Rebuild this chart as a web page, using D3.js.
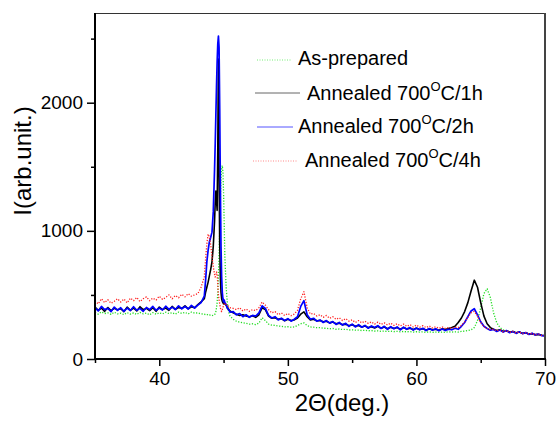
<!DOCTYPE html>
<html>
<head>
<meta charset="utf-8">
<script src="https://cdn.jsdelivr.net/npm/d3@7"></script>
<style>
  body { margin: 0; background: #fff; }
  svg { display: block; font-family: "Liberation Sans", Arial, sans-serif; }
</style>
</head>
<body>
<svg id="chart" width="556" height="421"></svg>
<script>
// 2theta sampling grid (denser around the main peak)
var twoTheta = [
  35, 35.25, 35.5, 35.75, 36, 36.25, 36.5, 36.75, 37, 37.25, 37.5, 37.75,
  38, 38.25, 38.5, 38.75, 39, 39.25, 39.5, 39.75, 40, 40.25, 40.5, 40.75,
  41, 41.25, 41.5, 41.75, 42, 42.25, 42.5, 42.75, 43, 43.25,
  43.5, 43.6, 43.7, 43.8, 43.9, 44.0, 44.1, 44.2, 44.3,
  44.35, 44.4, 44.45, 44.5, 44.55, 44.6, 44.65, 44.7, 44.75, 44.8, 44.85, 44.9, 44.95, 45.0, 45.05,
  45.1, 45.2, 45.3, 45.4, 45.5,
  45.75,
  46, 46.25, 46.5, 46.75, 47, 47.25, 47.5, 47.75, 48, 48.25, 48.5, 48.75,
  49, 49.25, 49.5, 49.75, 50, 50.25, 50.5, 50.75, 51, 51.25, 51.5, 51.75,
  52, 52.25, 52.5, 52.75, 53, 53.25, 53.5, 53.75, 54, 54.25, 54.5, 54.75,
  55, 55.25, 55.5, 55.75, 56, 56.25, 56.5, 56.75, 57, 57.25, 57.5, 57.75,
  58, 58.25, 58.5, 58.75, 59, 59.25, 59.5, 59.75, 60, 60.25, 60.5, 60.75,
  61, 61.25, 61.5, 61.75, 62, 62.25, 62.5, 62.75, 63, 63.25, 63.5, 63.75,
  64, 64.25, 64.5, 64.75, 65, 65.25, 65.5, 65.75, 66, 66.25, 66.5, 66.75,
  67, 67.25, 67.5, 67.75, 68, 68.25, 68.5, 68.75, 69, 69.25, 69.5, 69.75,
  70
];

var asPrepared = [
  362, 350, 368, 355, 360, 348, 365, 352, 358, 346, 362, 350,
  360, 348, 364, 352, 358, 345, 362, 350, 360, 352, 365, 355,
  362, 350, 366, 356, 364, 352, 366, 358, 360, 352,
  350, 345, 348, 342, 345, 340, 338, 342, 345,
  355, 370, 400, 440, 520, 650, 820, 1020, 1230, 1400, 1490, 1510, 1460, 1300, 1050,
  800, 560, 430, 365, 335,
  310,
  295, 288, 282, 278, 272, 275, 268, 280, 322, 300, 272, 265,
  262, 258, 255, 250, 252, 248, 250, 262, 275, 282, 262, 250,
  248, 244, 245, 240, 240, 236, 238, 232, 234, 230, 232, 226,
  228, 225, 226, 222, 224, 220, 222, 218, 220, 216, 218, 214,
  218, 214, 216, 212, 215, 212, 214, 210, 213, 210, 212, 208,
  212, 208, 210, 208, 210, 208, 212, 210, 212, 210, 215, 218,
  222, 228, 245, 300, 400, 510, 548, 480, 360, 282, 245, 228,
  220, 212, 215, 205, 208, 200, 204, 196, 198, 190, 192, 186,
  184
];

var annealed1h = [
  405, 380, 398, 372, 402, 378, 395, 385, 392, 370, 405, 380,
  398, 375, 408, 385, 395, 378, 400, 372, 405, 385, 398, 380,
  410, 388, 402, 395, 415, 392, 408, 400, 425, 445,
  470, 520, 560, 600, 650, 700, 760, 880, 1080,
  1220, 1310, 1240, 1160, 1650, 2340, 1450, 900, 640, 520, 470, 450, 440, 430, 445,
  430, 420, 400, 385, 375,
  360,
  350, 340, 345, 335, 330, 338, 325, 345, 400, 385, 335, 318,
  322, 310, 315, 298, 310, 300, 305, 320, 350, 368, 330, 305,
  310, 298, 300, 290, 295, 282, 288, 275, 280, 268, 272, 260,
  268, 255, 262, 250, 258, 245, 252, 242, 255, 240, 250, 236,
  248, 238, 245, 232, 245, 235, 240, 230, 240, 230, 236, 226,
  235, 228, 232, 225, 235, 230, 238, 245, 255, 285, 320, 370,
  440, 530, 615, 560, 440, 335, 275, 245, 232, 222, 228, 215,
  220, 210, 215, 205, 210, 200, 205, 195, 198, 190, 192, 185,
  182
];

var annealed2h = [
  400, 375, 410, 385, 395, 370, 405, 380, 400, 372, 398, 378,
  408, 380, 395, 372, 402, 385, 410, 380, 398, 382, 412, 388,
  405, 385, 415, 392, 410, 390, 418, 398, 420, 440,
  490, 610, 760, 850, 915, 950, 990, 1150, 1480,
  1680, 1900, 2120, 2320, 2460, 2520, 2430, 1950, 1350, 880, 640, 520, 470, 445, 460,
  440, 425, 395, 385, 365,
  370,
  345, 355, 330, 345, 325, 340, 335, 360, 415, 395, 340, 320,
  330, 305, 318, 300, 315, 295, 310, 330, 410, 455, 345, 310,
  318, 295, 305, 285, 300, 280, 292, 270, 285, 265, 278, 255,
  272, 250, 268, 248, 262, 240, 258, 245, 260, 238, 255, 232,
  252, 236, 250, 228, 248, 232, 245, 225, 242, 228, 240, 222,
  238, 225, 236, 220, 235, 222, 232, 228, 240, 232, 255, 285,
  330, 375, 392, 345, 290, 255, 238, 225, 230, 215, 226, 210,
  222, 205, 215, 200, 212, 198, 206, 192, 200, 188, 195, 182,
  180
];

var annealed4h = [
  455, 430, 470, 440, 462, 435, 450, 470, 445, 468, 438, 475,
  455, 480, 448, 470, 485, 455, 475, 460, 490, 465, 480, 500,
  470, 495, 478, 505, 485, 510, 490, 500, 510, 560,
  640, 780, 900, 975, 950, 890, 800, 720, 660,
  640, 650, 680, 660, 580, 500, 460, 430, 400, 380, 370, 385, 400, 420, 430,
  435, 425, 420, 410, 400,
  395,
  385, 400, 375, 390, 372, 385, 378, 400, 445, 420, 385, 360,
  370, 345, 360, 340, 355, 338, 350, 380, 470, 525, 400, 350,
  355, 335, 345, 325, 340, 318, 330, 310, 322, 300, 315, 295,
  305, 285, 300, 282, 295, 278, 290, 272, 288, 270, 282, 265,
  280, 262, 275, 258, 272, 255, 268, 250, 265, 248, 260, 245,
  258, 242, 252, 240, 250, 238, 246, 240, 248, 245, 262, 290,
  325, 360, 372, 335, 285, 252, 238, 230, 232, 220, 228, 212,
  222, 208, 216, 202, 212, 198, 205, 194, 200, 188, 194, 184,
  182
];

var xTicks = [40, 50, 60, 70];
var xMinorTicks = [35, 45, 55, 65];
var yTicks = [0, 1000, 2000];
var yMinorTicks = [500, 1500, 2500];

// legend labels: [text, superscript, tail]
var legendLabels = [
  ["As-prepared", "", ""],
  ["Annealed 700", "O", "C/1h"],
  ["Annealed 700", "O", "C/2h"],
  ["Annealed 700", "O", "C/4h"]
];

var svg = d3.select("#chart"),
    margin = {top: 13, right: 11, bottom: 62, left: 95},
    width = 556 - margin.left - margin.right,
    height = 421 - margin.top - margin.bottom;

var x = d3.scaleLinear().domain([35, 70]).range([margin.left, margin.left + width]);
var y = d3.scaleLinear().domain([0, 2700]).range([margin.top + height, margin.top]);

svg.append("clipPath").attr("id", "plotClip")
  .append("rect")
  .attr("x", margin.left).attr("y", margin.top)
  .attr("width", width).attr("height", height);

// series styles (draw order: green, black, blue, red)
var series = [
  {vals: asPrepared, color: "#22dd22", dash: "1.2,1.6", w: 1.3, legendColor: "#77ee77", legendDash: "1,1.5"},
  {vals: annealed1h, color: "#000000", dash: null, w: 1.6, legendColor: "#666666", legendDash: null},
  {vals: annealed2h, color: "#0000ff", dash: null, w: 1.7, legendColor: "#5555ff", legendDash: null},
  {vals: annealed4h, color: "#ff2020", dash: "1.2,1.6", w: 1.3, legendColor: "#ff8888", legendDash: "1,1.5"}
];

var line = d3.line()
  .x(function(d) { return x(d[0]); })
  .y(function(d) { return y(d[1]); });

var plot = svg.append("g").attr("clip-path", "url(#plotClip)");
series.forEach(function(s) {
  var pts = twoTheta.map(function(t, i) { return [t, s.vals[i]]; })
    .filter(function(d) { return d[1] != null; });
  plot.append("path")
    .datum(pts)
    .attr("fill", "none")
    .attr("stroke", s.color)
    .attr("stroke-width", s.w)
    .attr("stroke-dasharray", s.dash)
    .attr("stroke-linejoin", "round")
    .attr("d", line);
});

// frame: top and right borders
svg.append("line")
  .attr("x1", margin.left).attr("x2", margin.left + width)
  .attr("y1", margin.top + 0.5).attr("y2", margin.top + 0.5)
  .attr("stroke", "#333").attr("stroke-width", 1);
svg.append("line")
  .attr("x1", margin.left + width).attr("x2", margin.left + width)
  .attr("y1", margin.top).attr("y2", margin.top + height)
  .attr("stroke", "#444").attr("stroke-width", 2);

// axes
var xAxis = d3.axisBottom(x).tickValues(xTicks).tickSize(7).tickPadding(6).tickFormat(d3.format("d"));
var xMinor = d3.axisBottom(x).tickValues(xMinorTicks).tickSize(4).tickFormat("");
var yAxis = d3.axisLeft(y).tickValues(yTicks).tickSize(8).tickPadding(4).tickFormat(d3.format("d"));
var yMinor = d3.axisLeft(y).tickValues(yMinorTicks).tickSize(4).tickFormat("");

function styleAxis(g) {
  g.select(".domain").remove();
  g.selectAll(".tick line").attr("stroke", "#000").attr("stroke-width", 1.5);
  g.selectAll(".tick text").attr("fill", "#000").style("font-size", "19px")
    .style("font-family", "'Liberation Sans', Arial, sans-serif");
}

svg.append("g").attr("transform", "translate(0," + (margin.top + height) + ")").call(xAxis).call(styleAxis);
svg.append("g").attr("transform", "translate(0," + (margin.top + height) + ")").call(xMinor).call(styleAxis);
svg.append("g").attr("transform", "translate(" + margin.left + ",0)").call(yAxis).call(styleAxis);
svg.append("g").attr("transform", "translate(" + margin.left + ",0)").call(yMinor).call(styleAxis);

// axis lines (thick, black)
svg.append("line")
  .attr("x1", margin.left).attr("x2", margin.left)
  .attr("y1", margin.top).attr("y2", margin.top + height + 1)
  .attr("stroke", "#000").attr("stroke-width", 2);
svg.append("line")
  .attr("x1", margin.left - 1).attr("x2", margin.left + width + 1)
  .attr("y1", margin.top + height).attr("y2", margin.top + height)
  .attr("stroke", "#000").attr("stroke-width", 2);

// axis titles
svg.append("text")
  .attr("x", 342).attr("y", 411)
  .attr("text-anchor", "middle")
  .style("font-size", "24px")
  .text("2\u0398(deg.)");

svg.append("text")
  .attr("transform", "translate(31,161) rotate(-90)")
  .attr("text-anchor", "middle")
  .style("font-size", "24px")
  .text("I(arb.unit.)");

// legend (layout per row: line x0, x1, y, text x, baseline)
var legendRows = [
  {x0: 257, x1: 292, ly: 60, tx: 298, ty: 65},
  {x0: 255, x1: 300, ly: 93, tx: 307, ty: 100},
  {x0: 257, x1: 293, ly: 127, tx: 298, ty: 133},
  {x0: 253, x1: 297, ly: 161, tx: 305, ty: 167}
];

legendLabels.forEach(function(lab, i) {
  var r = legendRows[i], s = series[i];
  svg.append("line")
    .attr("x1", r.x0).attr("x2", r.x1)
    .attr("y1", r.ly).attr("y2", r.ly)
    .attr("stroke", s.legendColor)
    .attr("stroke-width", 1)
    .attr("stroke-dasharray", s.legendDash);
  var t = svg.append("text")
    .attr("x", r.tx).attr("y", r.ty)
    .style("font-size", "20px");
  t.append("tspan").text(lab[0]);
  if (lab[1]) {
    t.append("tspan").attr("dy", -9).style("font-size", "13px").text(lab[1]);
    t.append("tspan").attr("dy", 9).text(lab[2]);
  }
});
</script>
</body>
</html>
